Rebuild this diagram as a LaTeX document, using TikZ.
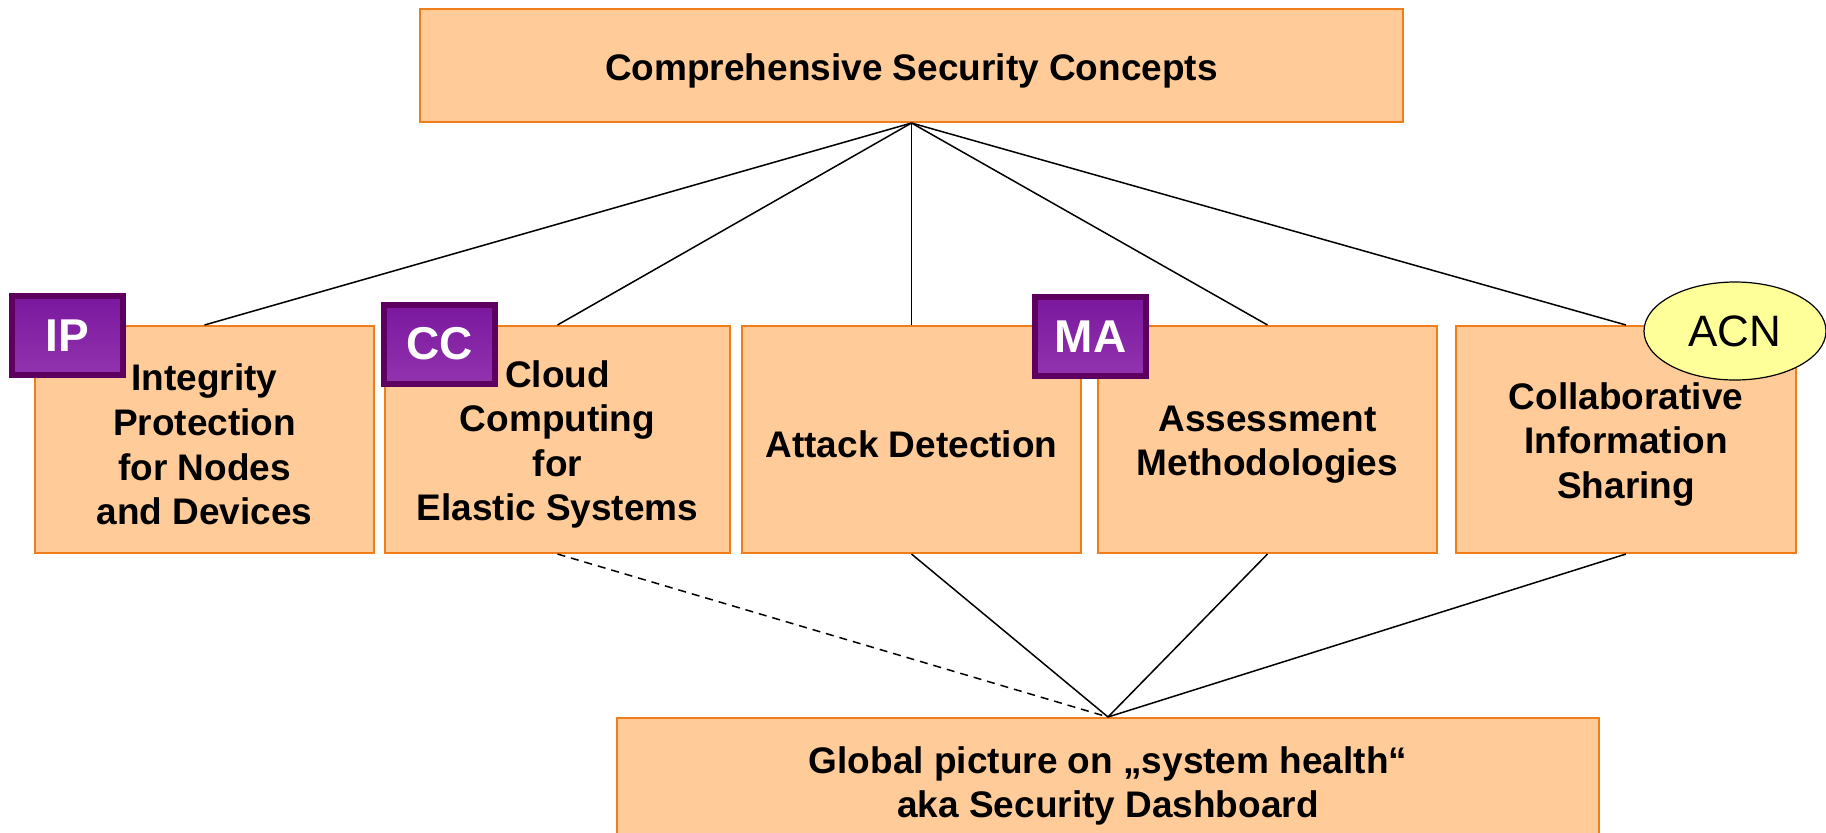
\documentclass[tikz,border=0pt]{standalone}
\usepackage{fontspec}
\setmainfont{Liberation Sans}
\usetikzlibrary{shapes.geometric}
\definecolor{boxfill}{HTML}{FFCC99}
\definecolor{boxline}{HTML}{EE7D1A}
\definecolor{badgeline}{HTML}{5E0060}
\definecolor{badgetop}{HTML}{7A189E}
\definecolor{badgebot}{HTML}{9233AE}
\definecolor{acnfill}{HTML}{FFFF99}
\tikzset{
  topicbox/.style={draw=boxline, fill=boxfill, line width=1pt, inner sep=0pt},
  boxtext/.style={align=center, inner sep=0pt,
    font=\fontsize{18.5}{22.3}\selectfont\bfseries},
  badge/.style={draw=badgeline, line width=3pt, top color=badgetop, bottom color=badgebot,
    minimum width=55.5pt, minimum height=39.5pt, inner sep=0pt, text=white,
    font=\fontsize{23}{26}\selectfont\bfseries},
  link/.style={draw=black, line width=0.75pt},
  weaklink/.style={draw=black, line width=0.75pt, dash pattern=on 4pt off 3pt}
}
\begin{document}
\begin{tikzpicture}[x=0.5pt,y=-0.5pt]
\useasboundingbox (0,0) rectangle (1826,832);
\begin{scope}
\clip (0,0) rectangle (1826,832);
% boxes
\node[topicbox, minimum width=491.5pt, minimum height=56.5pt] (top) at (911.5,65.5) {};
\node[topicbox, minimum width=169.5pt, minimum height=113.5pt] (b1) at (204.5,439.5) {};
\node[topicbox, minimum width=172.5pt, minimum height=113.5pt] (b2) at (557.5,439.5) {};
\node[topicbox, minimum width=169.5pt, minimum height=113.5pt] (b3) at (911.5,439.5) {};
\node[topicbox, minimum width=169.5pt, minimum height=113.5pt] (b4) at (1267.5,439.5) {};
\node[topicbox, minimum width=170pt, minimum height=113.5pt] (b5) at (1626,439.5) {};
\node[topicbox, minimum width=491pt, minimum height=65pt] (bot) at (1108,783) {};
% texts
\node[boxtext] (topt) at ([yshift=-2.5pt]top.center) {Comprehensive Security Concepts};
\node[boxtext] (b1t) at ([yshift=-2.5pt]b1.center) {Integrity\\Protection\\for Nodes\\and Devices};
\node[boxtext] (b2t) at ([yshift=-2.5pt]b2.center) {Cloud\\Computing\\for\\Elastic Systems};
\node[boxtext] (b3t) at ([yshift=-2.5pt]b3.center) {Attack Detection};
\node[boxtext] (b4t) at ([yshift=-2.5pt]b4.center) {Assessment\\Methodologies};
\node[boxtext] (b5t) at ([yshift=-2.5pt]b5.center) {Collaborative\\Information\\Sharing};
\node[boxtext] (bott) at ([yshift=-1.5pt]bot.center) {Global picture on „system health“\\aka Security Dashboard};
% connectors
\draw[link] (top.south) -- (b1.north);
\draw[link] (top.south) -- (b2.north);
\draw[link] (top.south) -- (b3.north);
\draw[link] (top.south) -- (b4.north);
\draw[link] (top.south) -- (b5.north);
\draw[weaklink] (b2.south) -- (bot.north);
\draw[link] (b3.south) -- (bot.north);
\draw[link] (b4.south) -- (bot.north);
\draw[link] (b5.south) -- (bot.north);
% badges
\node[badge] (ip) at (67.5,335.5) {IP};
\node[badge] (cc) at (439.5,344) {CC};
\node[badge] (ma) at (1090.5,336.5) {MA};
\node[ellipse, draw=black, line width=0.6pt, fill=acnfill, minimum width=91pt, minimum height=49pt, inner sep=0pt,
  font=\fontsize{22}{24}\selectfont] (acn) at (1735,331) {ACN};
\end{scope}
\end{tikzpicture}
\end{document}
